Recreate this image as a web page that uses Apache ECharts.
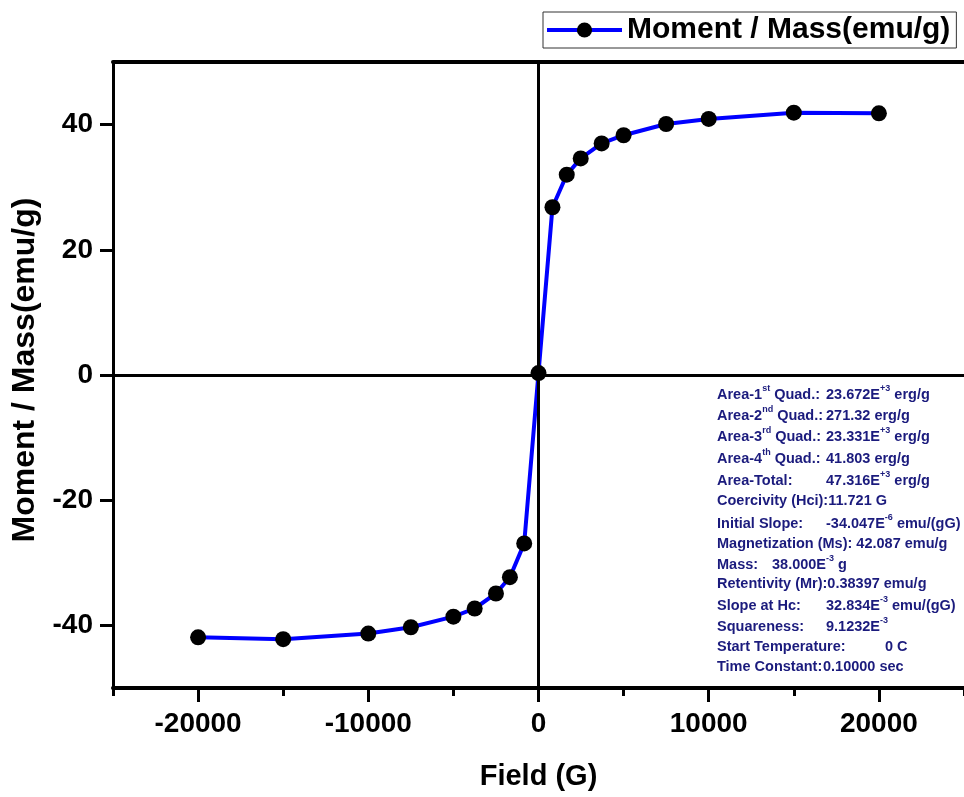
<!DOCTYPE html>
<html>
<head>
<meta charset="utf-8">
<script src="https://cdn.jsdelivr.net/npm/echarts@6/dist/echarts.min.js"></script>
<style>
html,body{margin:0;padding:0;background:#ffffff;}
#chart{width:964px;height:797px;}
</style>
</head>
<body>
<div id="chart"></div>
<script>
// ---- data ----
var fieldG = [-20000, -15000, -10000, -7500, -5000, -3750, -2500, -1680, -840, 0,
              820, 1660, 2480, 3710, 5000, 7500, 10000, 15000, 20000];
var momentEmuG = [-41.9, -42.2, -41.3, -40.3, -38.6, -37.3, -34.9, -32.3, -26.9, 0.3,
                  26.8, 32.0, 34.6, 37.0, 38.3, 40.1, 40.9, 41.9, 41.8];
var xTickLabels = [-20000, -10000, 0, 10000, 20000];
var yTickLabels = [-40, -20, 0, 20, 40];
var seriesName = 'Moment / Mass(emu/g)';
var xName = 'Field (G)';
var yName = 'Moment / Mass(emu/g)';
// annotation lines: label and value; text between ^...^ is a superscript
var infoLabels = ['Area-1^st^ Quad.:', 'Area-2^nd^ Quad.:', 'Area-3^rd^ Quad.:',
  'Area-4^th^ Quad.:', 'Area-Total:', 'Coercivity (Hci):11.721 G', 'Initial Slope:',
  'Magnetization (Ms): 42.087 emu/g', 'Mass:', 'Retentivity (Mr):0.38397 emu/g',
  'Slope at Hc:', 'Squareness:', 'Start Temperature:', 'Time Constant:'];
var infoValues = ['23.672E^+3^ erg/g', '271.32 erg/g', '23.331E^+3^ erg/g',
  '41.803 erg/g', '47.316E^+3^ erg/g', '', '-34.047E^-6^ emu/(gG)', '',
  '38.000E^-3^ g', '', '32.834E^-3^ emu/(gG)', '9.1232E^-3^', '0 C', '0.10000 sec'];

var FONT = '"Liberation Sans", Arial, sans-serif';
var chart = echarts.init(document.getElementById('chart'), null, {renderer: 'canvas'});

var infoY = [395, 416, 437, 459, 481, 501, 524, 544, 565, 584, 606, 627, 647, 667];
var infoValX = [826, 826, 826, 826, 826, 0, 826, 0, 772, 0, 826, 826, 885, 823];
var infoColor = '#1b1b7d';
function toRich(str) {
  var parts = str.split('^');
  var out = '';
  for (var k = 0; k < parts.length; k++) {
    if (parts[k] === '') continue;
    out += (k % 2 === 1 ? '{s|' : '{a|') + parts[k] + '}';
  }
  // trailing invisible superscript token keeps every line's layout identical
  return out + '{s| }';
}
function richStyle() {
  return {
    a: {fontSize: 14.5, fontWeight: 'bold', fontFamily: FONT, fill: infoColor, lineHeight: 18, verticalAlign: 'bottom'},
    s: {fontSize: 9, fontWeight: 'bold', fontFamily: FONT, fill: infoColor, lineHeight: 18, verticalAlign: 'top'}
  };
}
var graphics = [];
for (var i = 0; i < infoLabels.length; i++) {
  graphics.push({
    type: 'text', left: 717, top: infoY[i] - 11, silent: true,
    style: {text: toRich(infoLabels[i]), rich: richStyle(), fill: infoColor}
  });
  if (infoValues[i]) {
    graphics.push({
      type: 'text', left: infoValX[i], top: infoY[i] - 11, silent: true,
      style: {text: toRich(infoValues[i]), rich: richStyle(), fill: infoColor}
    });
  }
}
function plain(v) { return String(v); }

var option = {
  backgroundColor: '#ffffff',
  animation: false,
  grid: {left: 113, top: 62, width: 853, height: 626, containLabel: false},
  legend: {
    left: 543, top: 12,
    padding: [3, 6, 3, 2],
    borderColor: '#333', borderWidth: 1,
    itemWidth: 75, itemHeight: 19,
    lineStyle: {width: 4},
    textStyle: {fontSize: 30, fontWeight: 'bold', color: '#000', fontFamily: FONT},
    data: [seriesName]
  },
  xAxis: [{
    type: 'value', min: -25000, max: 25000, interval: 5000,
    position: 'bottom',
    name: xName, nameLocation: 'middle', nameGap: 74,
    nameTextStyle: {fontSize: 29, fontWeight: 'bold', color: '#000', fontFamily: FONT},
    axisLine: {onZero: false, lineStyle: {color: '#000', width: 4}},
    axisTick: {show: true, length: 14, inside: false, customValues: xTickLabels, lineStyle: {color: '#000', width: 3}},
    axisLabel: {customValues: xTickLabels, formatter: plain, fontSize: 28, fontWeight: 'bold', color: '#000', fontFamily: FONT, margin: 22},
    splitLine: {show: false}
  }, {
    type: 'value', min: -25000, max: 25000, interval: 5000,
    position: 'bottom',
    axisLine: {show: false, onZero: false},
    axisTick: {show: true, length: 8, lineStyle: {color: '#000', width: 3}},
    axisLabel: {show: false},
    splitLine: {show: false}
  }, {
    type: 'value', min: -25000, max: 25000, interval: 5000,
    position: 'top',
    axisLine: {show: true, onZero: false, lineStyle: {color: '#000', width: 4}},
    axisTick: {show: false},
    axisLabel: {show: false},
    splitLine: {show: false}
  }],
  yAxis: [{
    type: 'value', min: -50, max: 50, interval: 10,
    name: yName, nameLocation: 'middle', nameGap: 66,
    nameTextStyle: {fontSize: 32, fontWeight: 'bold', color: '#000', fontFamily: FONT, padding: [0, 0, 0, 10]},
    axisLine: {onZero: false, lineStyle: {color: '#000', width: 3}},
    axisTick: {show: true, length: 13, customValues: yTickLabels, lineStyle: {color: '#000', width: 3}},
    axisLabel: {customValues: yTickLabels, formatter: plain, fontSize: 28, fontWeight: 'bold', color: '#000', fontFamily: FONT, margin: 20},
    splitLine: {show: false}
  }],
  series: [{
    name: 'zero-lines', type: 'line', data: [], z: 1, silent: true,
    markLine: {
      silent: true, symbol: ['none', 'none'], label: {show: false},
      lineStyle: {color: '#000', width: 3, type: 'solid'},
      emphasis: {disabled: true},
      data: [{xAxis: 0}, {yAxis: 0}]
    }
  }, {
    name: seriesName, type: 'line', z: 3,
    data: fieldG.map(function (f, k) { return [f, momentEmuG[k]]; }),
    symbol: 'circle', symbolSize: 16, showSymbol: true,
    itemStyle: {color: '#000'},
    lineStyle: {color: '#0000ff', width: 4}
  }],
  graphic: graphics
};
chart.setOption(option);
</script>
</body>
</html>
